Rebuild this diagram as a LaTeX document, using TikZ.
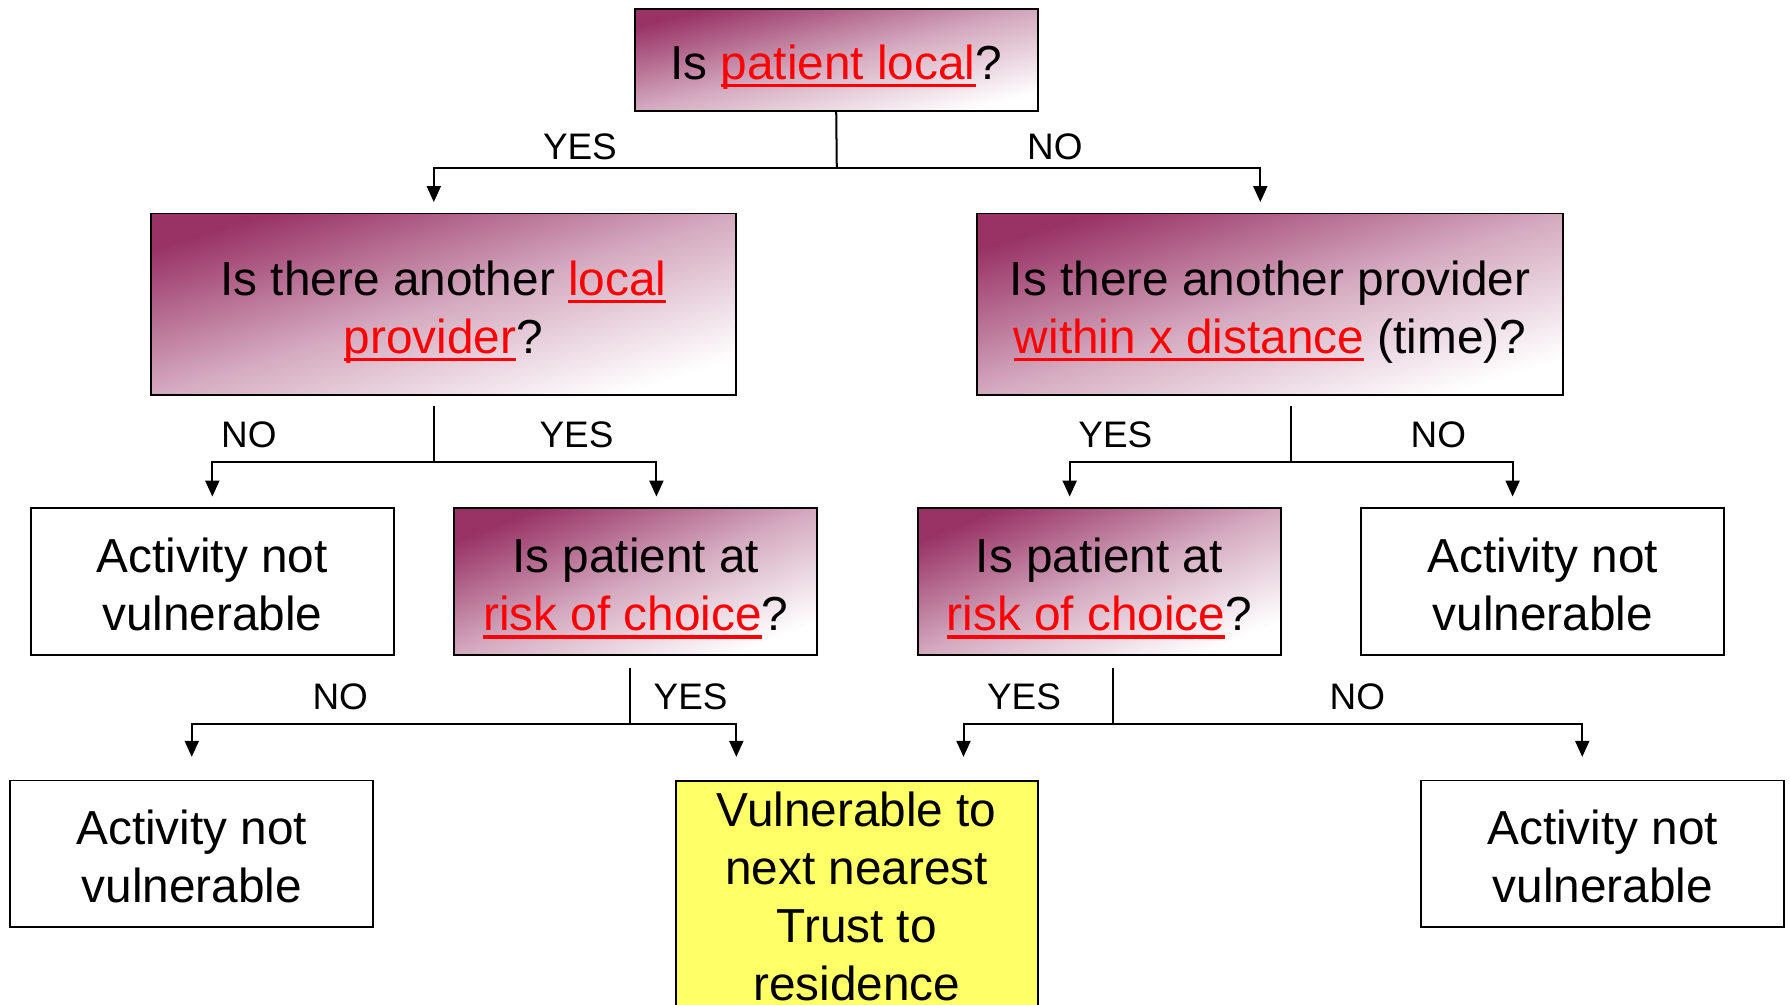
\documentclass[tikz,border=0pt]{standalone}
\usepackage{fontspec}
\setmainfont{Liberation Sans}
\usetikzlibrary{arrows.meta,shadings}
\usepackage{xcolor}

\definecolor{plum}{RGB}{153,51,102}
\definecolor{lemon}{RGB}{255,255,102}
\newcommand{\redul}[1]{\textcolor{red}{\setbox0\hbox{#1}\rlap{\rule[-0.175em]{\wd0}{0.07em}}\box0}}
\newcommand{\boxfont}{\fontsize{23.8}{28.9}\selectfont}
\newcommand{\lblfont}{\fontsize{18.4}{22}\selectfont}

\begin{document}
\begin{tikzpicture}[
    boxtext/.style={align=center, font=\boxfont, text height=1.89cm, text depth=0.18cm},
    question/.style={draw, line width=0.9pt, top color=plum, bottom color=white,
        middle color=plum!42!white, shading angle=17, boxtext},
    answer/.style={draw, line width=0.9pt, fill=white, boxtext,
        minimum width=6.36cm, minimum height=2.57cm},
    lbl/.style={font=\lblfont},
    arr/.style={line width=1pt, -{Triangle[width=7pt,length=8pt]}},
    stem/.style={line width=1pt}
  ]
    \def\Ya{14.66}
    \def\Yb{9.5}
    \def\Yc{4.92}

    \useasboundingbox (0,0) rectangle (31.36,17.6);

    % questions
    \node[question, shading angle=14, text height=0.85cm, minimum width=7.06cm, minimum height=1.78cm] (q0)
        at (14.65,16.55) {Is \redul{patient local}?};
    \node[question, minimum width=10.26cm, minimum height=3.18cm] (q1) at (7.77,12.27)
        {Is there another \redul{local}\\\redul{provider}?};
    \node[question, minimum width=10.26cm, minimum height=3.18cm] (q2) at (22.25,12.27)
        {Is there another provider\\\redul{within x distance} (time)?};
    \node[question, shading angle=22, minimum width=6.36cm, minimum height=2.58cm] (q3) at (11.14,7.41)
        {Is patient at\\\redul{risk of choice}?};
    \node[question, shading angle=22, minimum width=6.36cm, minimum height=2.58cm] (q4) at (19.26,7.41)
        {Is patient at\\\redul{risk of choice}?};

    % outcomes
    \node[answer] (n1) at (3.72,7.41) {Activity not\\vulnerable};
    \node[answer] (n2) at (27.03,7.41) {Activity not\\vulnerable};
    \node[answer] (n3) at (3.36,2.64) {Activity not\\vulnerable};
    \node[answer] (n4) at (28.08,2.64) {Activity not\\vulnerable};
    \node[answer, fill=lemon, text height=3.66cm, inner ysep=0.1cm, minimum width=6.34cm, minimum height=4.22cm] (vul)
        at (15.01,1.81) {Vulnerable to\\next nearest\\Trust to\\residence};

    % junctions and arrow tips
    \coordinate (j0) at (14.66,\Ya);
    \coordinate (j1) at (7.6,\Yb);
    \coordinate (j2) at (22.62,\Yb);
    \coordinate (j3) at (11.04,\Yc);
    \coordinate (j4) at (19.5,\Yc);
    \coordinate (t1) at (7.6,14.06);
    \coordinate (t2) at (22.08,14.06);
    \coordinate (t3) at (3.72,8.9);
    \coordinate (t4) at (11.5,8.9);
    \coordinate (t5) at (18.74,8.9);
    \coordinate (t6) at (26.5,8.9);
    \coordinate (t7) at (3.36,4.34);
    \coordinate (t8) at (12.9,4.34);
    \coordinate (t9) at (16.88,4.34);
    \coordinate (t10) at (27.72,4.34);

    \draw[stem] (q0.south) -- (j0);
    \draw[arr] (j0) -| (t1);
    \draw[arr] (j0) -| (t2);

    \draw[stem] (q1.south -| j1) ++(0,-0.18) -- (j1);
    \draw[arr] (j1) -| (t3);
    \draw[arr] (j1) -| (t4);

    \draw[stem] (q2.south -| j2) ++(0,-0.18) -- (j2);
    \draw[arr] (j2) -| (t5);
    \draw[arr] (j2) -| (t6);

    \draw[stem] (q3.south -| j3) ++(0,-0.2) -- (j3);
    \draw[arr] (j3) -| (t7);
    \draw[arr] (j3) -| (t8);

    \draw[stem] (q4.south -| j4) ++(0,-0.2) -- (j4);
    \draw[arr] (j4) -| (t9);
    \draw[arr] (j4) -| (t10);

    % labels
    \node[lbl] (l1) at (10.16,15.02) {YES};
    \node[lbl] (l2) at (18.48,15.02) {NO};
    \node[lbl] (l3) at (4.36,9.98) {NO};
    \node[lbl] (l4) at (10.1,9.98) {YES};
    \node[lbl] (l5) at (19.54,9.98) {YES};
    \node[lbl] (l6) at (25.2,9.98) {NO};
    \node[lbl] (l7) at (5.96,5.4) {NO};
    \node[lbl] (l8) at (12.1,5.4) {YES};
    \node[lbl] (l9) at (17.94,5.4) {YES};
    \node[lbl] (l10) at (23.78,5.4) {NO};
\end{tikzpicture}
\end{document}
